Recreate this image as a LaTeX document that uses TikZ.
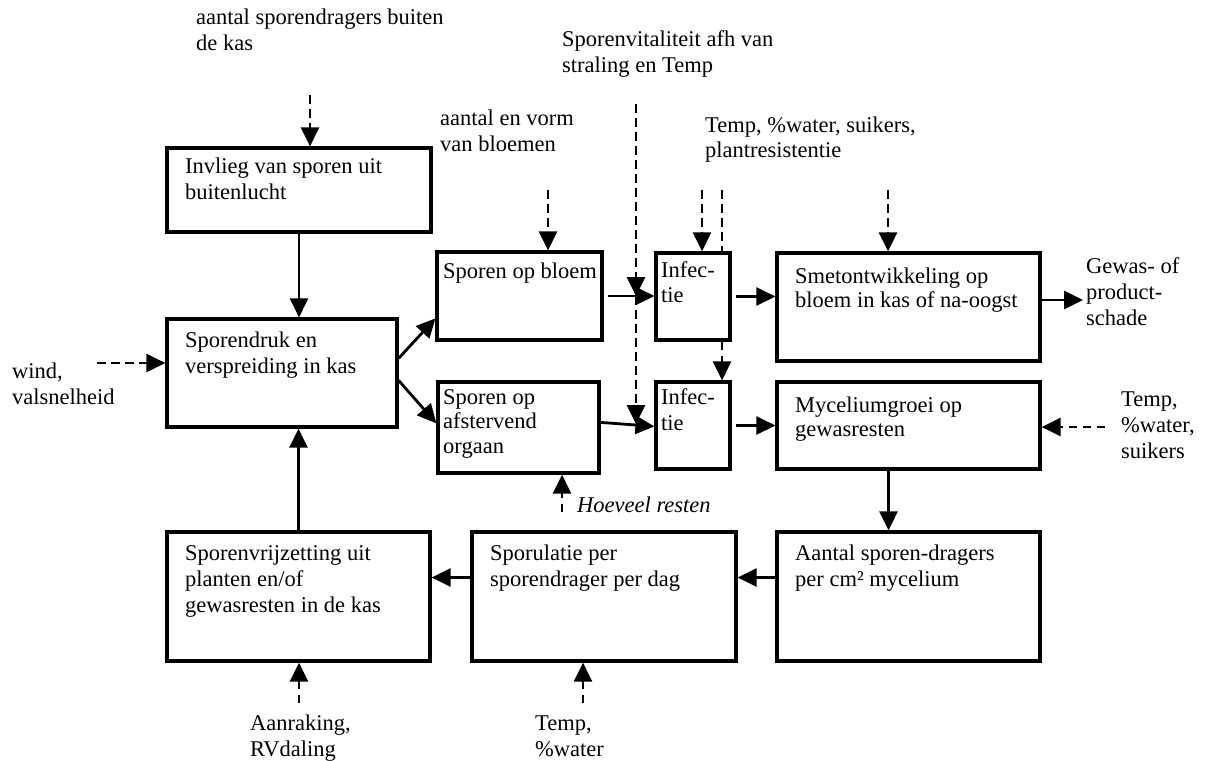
\documentclass[tikz,border=0pt]{standalone}
\usepackage{fontspec}
\setmainfont{Liberation Serif}
\usetikzlibrary{arrows.meta}
\begin{document}
\begin{tikzpicture}[x=1pt,y=-1pt,
  box/.style={draw, line width=3.2pt, inner sep=0pt, minimum width=#1},
  lbl/.style={font=\fontsize{22.5}{26}\selectfont, align=left, inner sep=0pt, anchor=base west},
  arr/.style={line width=2.8pt, -{Triangle[length=19pt,width=18pt]}},
  darr/.style={line width=2.8pt, dash pattern=on 8.5pt off 5.5pt, -{Triangle[length=19pt,width=18pt]}},
  dline/.style={line width=2.8pt, dash pattern=on 8.5pt off 5.5pt}]
\useasboundingbox (0,0) rectangle (1206,760);
% boxes
\node[box=264pt, minimum height=84pt] (A) at (299,190) {};
\node[box=230pt, minimum height=108pt] (B) at (282,373) {};
\node[box=165pt, minimum height=88pt] (C) at (519.5,296) {};
\node[box=161pt, minimum height=91pt] (D) at (518.5,427.5) {};
\node[box=74pt, minimum height=87pt] (E1) at (693,296.5) {};
\node[box=74pt, minimum height=87pt] (E2) at (693,425.5) {};
\node[box=263pt, minimum height=108pt] (F) at (908.5,307) {};
\node[box=263pt, minimum height=87pt] (G) at (908.5,425.5) {};
\node[box=263pt, minimum height=129pt] (H) at (298.5,596.5) {};
\node[box=264pt, minimum height=129pt] (I) at (604,596.5) {};
\node[box=263pt, minimum height=129pt] (J) at (908.5,596.5) {};
% box texts (anchored at the baseline of the last line)
\node[lbl] (At) at (185,199) {Invlieg van sporen uit\\buitenlucht};
\node[lbl] (Bt) at (185,373) {Sporendruk en\\verspreiding in kas};
\node[lbl] (Ct) at (443,278) {Sporen op bloem};
\node[lbl, font=\fontsize{22.5}{24.5}\selectfont] (Dt) at (443,453) {Sporen op\\afstervend\\orgaan};
\node[lbl, font=\fontsize{22.5}{25}\selectfont] (E1t) at (661,302) {Infec-\\tie};
\node[lbl] (E2t) at (661,430) {Infec-\\tie};
\node[lbl, font=\fontsize{22.5}{24.5}\selectfont] (Ft) at (795,307.5) {Smetontwikkeling op\\bloem in kas of na-oogst};
\node[lbl, font=\fontsize{22.5}{24}\selectfont] (Gt) at (795,436) {Myceliumgroei op\\gewasresten};
\node[lbl] (Ht) at (185,612) {Sporenvrijzetting uit\\planten en/of\\gewasresten in de kas};
\node[lbl] (It) at (490,586) {Sporulatie per\\sporendrager per dag};
\node[lbl] (Jt) at (795,586) {Aantal sporen-dragers\\per cm² mycelium};
% outside texts
\node[lbl] (t1) at (196,51) {aantal sporendragers buiten\\de kas};
\node[lbl] (t2) at (440,151) {aantal en vorm\\van bloemen};
\node[lbl] (t3) at (562,72) {Sporenvitaliteit afh van\\straling en Temp};
\node[lbl, font=\fontsize{22.5}{25}\selectfont] (t4) at (705,157) {Temp, \%water, suikers,\\plantresistentie};
\node[lbl] (t5) at (12,404) {wind,\\valsnelheid};
\node[lbl] (t6) at (1086,325) {Gewas- of\\product-\\schade};
\node[lbl] (t7) at (1121,458) {Temp,\\\%water,\\suikers};
\node[lbl, font=\fontsize{22.5}{26}\selectfont\itshape] (t8) at (577,512) {Hoeveel resten};
\node[lbl] (t9) at (250,756) {Aanraking,\\RVdaling};
\node[lbl] (t10) at (535,756) {Temp,\\\%water};
% coordinates for free ends
\coordinate (d1) at (310,95);
\coordinate (d2) at (548,190);
\coordinate (d3) at (636,104);
\coordinate (d3a) at (636,296);
\coordinate (d3b) at (636,424);
\coordinate (d4) at (702,190);
\coordinate (d5) at (722,190);
\coordinate (d6) at (888,190);
\coordinate (d7) at (97,363);
\coordinate (d8) at (1105,427);
\coordinate (d9) at (562,512);
\coordinate (d10) at (299,703);
\coordinate (d11) at (583,703);
\coordinate (outtip) at (1083,300);
% solid connectors
\draw[arr] (A.south) -- (A.south |- B.north);
\draw[arr] ([yshift=-41pt]B.north east) -- ([yshift=-68pt]C.north west);
\draw[arr] ([yshift=-63pt]B.north east) -- ([yshift=-43pt]D.north west);
\draw[arr] ([xshift=4pt]C.east) -- (C.east -| E1.west);
\draw[arr] ([yshift=-42pt]D.north east) -- ([yshift=-46pt]E2.north west);
\draw[arr] ([xshift=4pt]E1.east) -- (E1.east -| F.west);
\draw[arr] ([xshift=4pt]E2.east) -- (E2.east -| G.west);
\draw[arr] (F.east |- outtip) -- (outtip);
\draw[arr] ([xshift=-20pt]G.south) -- ([xshift=-20pt]G.south |- J.north);
\draw[arr] ([yshift=19pt]J.west) -- ([yshift=19pt]J.west -| I.east);
\draw[arr] ([yshift=19pt]I.west) -- ([yshift=19pt]I.west -| H.east);
\draw[arr] (H.north) -- (H.north |- B.south);
% dashed connectors
\draw[darr] (d1) -- (d1 |- A.north);
\draw[darr] (d2) -- (d2 |- C.north);
\draw[darr] (d3) -- (d3a);
\draw[darr] (d3a) -- (d3b);
\draw[darr] (d4) -- (d4 |- E1.north);
\draw[dline] (d5) -- (d5 |- E1.north);
\draw[darr] (d5 |- E1.south) -- (d5 |- E2.north);
\draw[darr] (d6) -- (d6 |- F.north);
\draw[darr] (d7) -- (d7 -| B.west);
\draw[darr] (d8) -- (d8 -| G.east);
\draw[darr] (d9) -- (d9 |- D.south);
\draw[darr] (d10) -- (d10 |- H.south);
\draw[darr] (d11) -- (d11 |- I.south);
\end{tikzpicture}
\end{document}
